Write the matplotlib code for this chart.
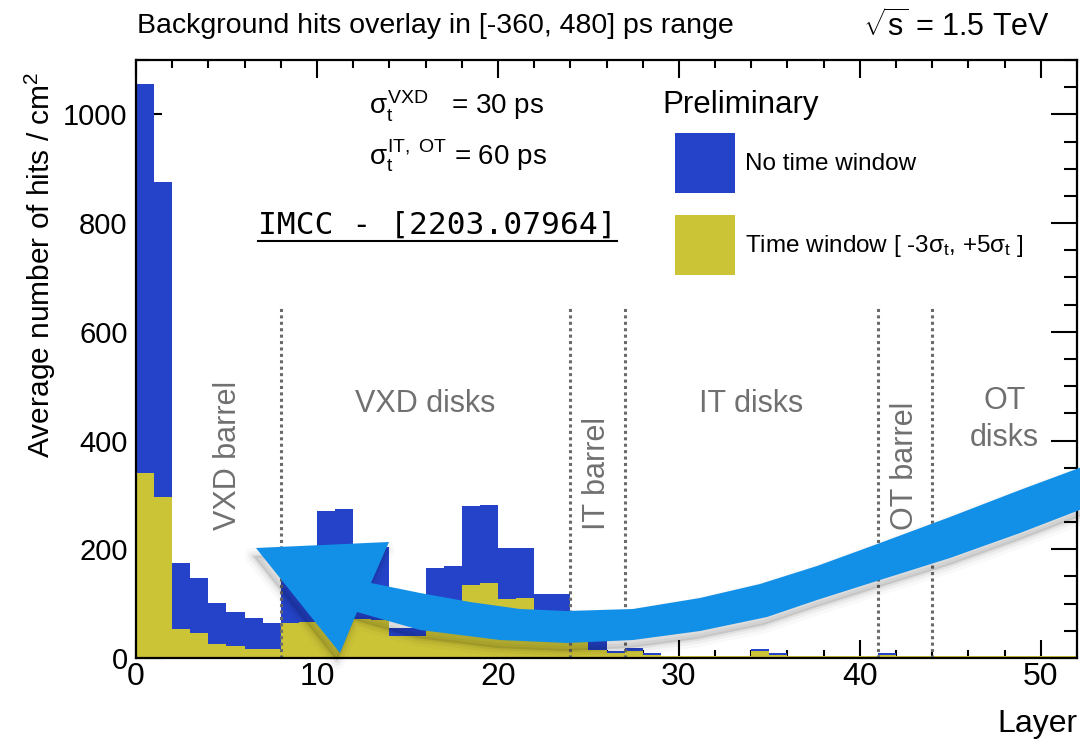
import matplotlib
matplotlib.use("Agg")
import numpy as np
import matplotlib.pyplot as plt
from matplotlib.patches import Patch, Polygon
from matplotlib.lines import Line2D
from matplotlib.ticker import MultipleLocator

plt.rcParams['font.family'] = ['Liberation Sans', 'DejaVu Sans']
plt.rcParams['mathtext.fontset'] = 'custom'
plt.rcParams['mathtext.rm'] = 'Liberation Sans'
plt.rcParams['mathtext.it'] = 'Liberation Sans'
plt.rcParams['mathtext.bf'] = 'Liberation Sans:bold'

# average hits per cm2 for each detector layer
layers = np.arange(53)
no_window = [1055, 875, 175, 148, 102, 85, 73, 65, 145, 148,
             271, 275, 204, 204, 55, 55, 166, 169, 280, 282,
             203, 203, 117, 117, 87, 35, 12, 18, 9, 4,
             4, 4, 4, 4, 16, 9, 4, 4, 4, 4,
             4, 9, 4, 4, 4, 4, 4, 4, 4, 4,
             4, 4]
time_window = [341, 297, 53, 46, 26, 22, 16, 16, 64, 67,
               82, 85, 72, 70, 40, 40, 65, 68, 135, 138,
               108, 111, 55, 55, 30, 15, 9, 12, 6, 4,
               4, 4, 4, 4, 12, 5, 4, 4, 4, 4,
               4, 5, 4, 4, 4, 4, 4, 4, 4, 4,
               4, 4]

# sub-detector boundaries and their labels
boundaries = [8, 24, 27, 41, 44]
barrel_labels = [(5.1, 'VXD barrel'), (25.5, 'IT barrel'), (42.5, 'OT barrel')]
disk_labels = [(16, 'VXD disks'), (34, 'IT disks'), (48, 'OT\ndisks')]

blue = '#2443c8'
yellow = '#ccc437'

W, H = 1080, 744
fig = plt.figure(figsize=(W / 100, H / 100), dpi=100)
ax = fig.add_axes([136 / W, 1 - 658 / H, (1077 - 136) / W, (658 - 60) / H])

ax.stairs(no_window, layers, fill=True, color=blue, zorder=2)
ax.stairs(time_window, layers, fill=True, color=yellow, zorder=3)

ax.vlines(boundaries, 0, 650, colors='#6a6a6a', linestyles=(0, (1, 1.1)),
          linewidth=2.2, zorder=4)

grey = '#707070'
for x, s in barrel_labels:
    ax.text(x, 235, s, rotation=90, ha='center', va='bottom', fontsize=22, color=grey)
for x, s in disk_labels:
    y = 468 if '\n' not in s else 439
    ax.text(x, y, s, ha='center', va='center', fontsize=22, color=grey, linespacing=1.3)

ax.set_xlim(0, 52)
ax.set_ylim(0, 1100)
ax.xaxis.set_major_locator(MultipleLocator(10))
ax.xaxis.set_minor_locator(MultipleLocator(2))
ax.yaxis.set_major_locator(MultipleLocator(200))
ax.yaxis.set_minor_locator(MultipleLocator(50))
ax.tick_params(which='both', direction='in', top=True, right=True, width=1.5, color='black')
ax.tick_params(axis='y', which='major', length=19, labelsize=21, pad=6)
ax.tick_params(axis='y', which='minor', length=9.5)
ax.tick_params(axis='x', which='major', length=13, labelsize=23, pad=3)
ax.tick_params(axis='x', which='minor', length=6)
for sp in ax.spines.values():
    sp.set_linewidth(1.6)
    sp.set_zorder(6)

fig.text(40 / W, 1 - 72 / H, 'Average number of hits / cm$^2$', fontsize=21.5,
         rotation=90, ha='center', va='top')
ax.set_xlabel('Layer', fontsize=23, loc='right')
ax.xaxis.set_label_coords(1.0, -0.085)

fig.text(137 / W, 1 - 26 / H, 'Background hits overlay in [-360, 480] ps range',
         fontsize=20.5, va='center', ha='left')
fig.text(1050 / W, 1 - 26 / H, r'$\sqrt{s}$ = 1.5 TeV',
         fontsize=22, va='center', ha='right')

# timing resolution notes
ax.text(12.9, 1014, r'$\sigma_t^{VXD}$   = 30 ps', fontsize=20, va='center')
ax.text(12.9, 924, r'$\sigma_t^{IT,\ OT}$ = 60 ps', fontsize=20, va='center')

ref = ax.text(6.75, 796, 'IMCC - [2203.07964]', fontsize=22.5, va='center',
              family=['DejaVu Sans Mono'])

ax.text(29.1, 1018, 'Preliminary', fontsize=22.5, va='center')
handles = [Patch(facecolor=blue, edgecolor='none'), Patch(facecolor=yellow, edgecolor='none')]
ax.legend(handles, ['No time window', r'Time window [ -3$\sigma_t$, +5$\sigma_t$ ]'],
          loc='upper left', bbox_to_anchor=(675 / W, 1 - 133 / H),
          bbox_transform=fig.transFigure, frameon=False, fontsize=17.5,
          borderpad=0, borderaxespad=0, handlelength=2.47, handleheight=3.42,
          labelspacing=0.9, handletextpad=0.42)

# underline below the reference tag
fig.canvas.draw()
bb = ref.get_window_extent()
fig.add_artist(Line2D([bb.x0 / W, bb.x1 / W], [(bb.y0 - 1) / H] * 2,
                      color='black', linewidth=1.5))

# big curved pointer drawn over the plot (pixel outline, y measured from top)
head = [(256, 548), (389, 542)]
upper = [(371, 583), (420, 593), (470, 602), (520, 609), (567, 611), (633, 609),
         (700, 598), (760, 584), (817, 566), (880, 543), (950, 517), (1020, 490),
         (1090, 464)]
lower = [(1090, 506), (1020, 533), (950, 558), (880, 580), (817, 600), (767, 617),
         (700, 631), (633, 640), (567, 643), (500, 640), (420, 630), (357, 612)]
tail = [(340, 653)]
outline = np.array(head + upper + lower + tail, dtype=float)

def to_fig(pts, dx=0.0, dy=0.0):
    return np.column_stack([(pts[:, 0] + dx) / W, 1 - (pts[:, 1] + dy) / H])

# soft drop shadow underneath
for lw, a in [(12, 0.025), (7, 0.04), (3, 0.055)]:
    fig.add_artist(Polygon(to_fig(outline, -3, 8), closed=True, facecolor='black',
                           edgecolor='black', linewidth=lw, alpha=a,
                           joinstyle='round', zorder=20))
fig.add_artist(Polygon(to_fig(outline), closed=True, facecolor='#1290e8',
                       edgecolor='none', zorder=21))

fig.savefig('out.png', dpi=100)
